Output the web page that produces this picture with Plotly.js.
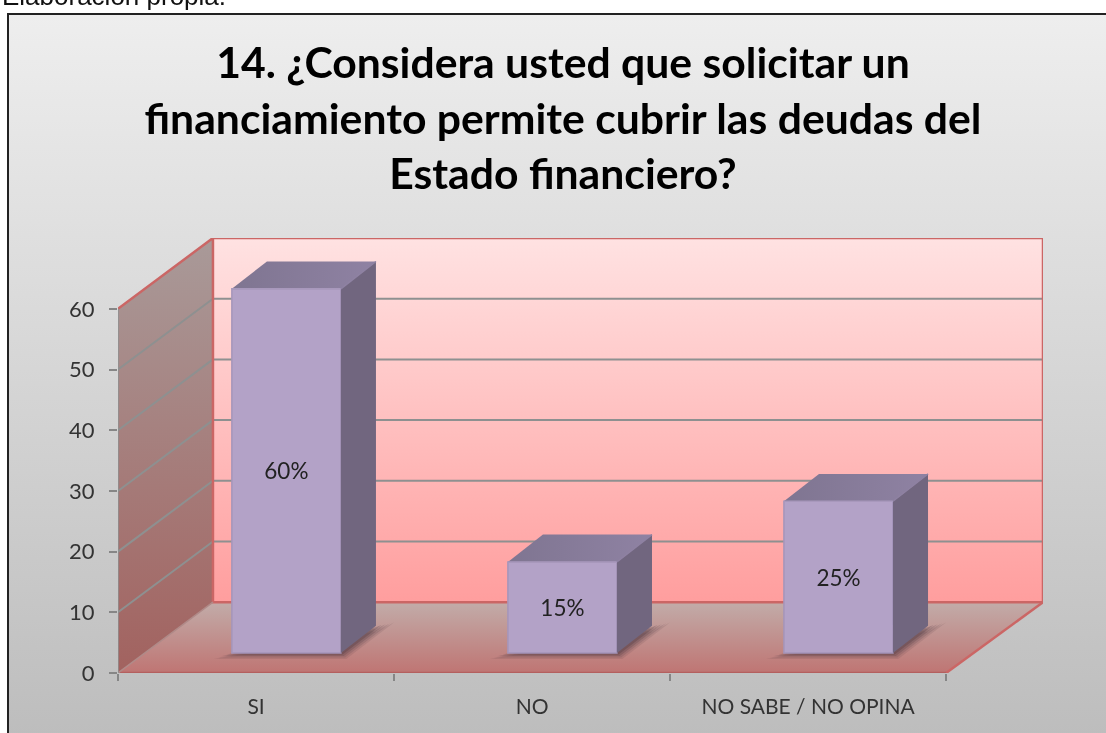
<!DOCTYPE html>
<html><head><meta charset="utf-8">
<script src="https://cdn.plot.ly/plotly-3.0.1.min.js"></script>
<style>
html,body{margin:0;padding:0;width:1106px;height:733px;overflow:hidden;background:#fff}
#frame{position:absolute;left:7px;top:13px;width:1120px;height:740px;border:2px solid #222;background:linear-gradient(#EEEEEE,#BCBCBC);box-sizing:border-box}
#chart{position:absolute;left:0;top:0;width:1106px;height:733px;filter:blur(0.5px)}
</style></head><body>
<div id="frame"></div><div id="chart"></div>
<script>
const categories = ["SI", "NO", "NO SABE / NO OPINA"];
const values = [60, 15, 25];
const valueLabels = ["60%", "15%", "25%"];
const yTicks = [0, 10, 20, 30, 40, 50, 60];
const titleLines = ["14. ¿Considera usted que solicitar un", "financiamiento permite cubrir las deudas del", "Estado financiero?"];

// Pseudo-3D projection, in axis units
const wallDx = 0.344, wallDxR = 0.351, wallDy = 11.67, yMax = 60 + wallDy;
const xMin = -0.5, xEnd = 2.5, xMax = xEnd + wallDxR;
const barOff = 0.11, barW = 0.395, barBase = 3.3, barDx = 0.127, barDy = 4.5;
const RED = "#CB6665", GRID = "#8E9090";

function poly(x, y, color, grad, over, line) {
  const t = {type:"scatter", mode:"lines", x:x.concat(x[0]), y:y.concat(y[0]), fill:"toself",
    line:line || {width:0}, hoverinfo:"skip", showlegend:false, cliponaxis:false,
    xaxis: over ? "x2" : "x", yaxis: over ? "y2" : "y"};
  if (grad) t.fillgradient = {type:grad.type, colorscale:[[0,grad.a],[1,grad.b]]};
  else t.fillcolor = color;
  return t;
}
function seg(x, y, color, width, over) {
  return {type:"scatter", mode:"lines", x, y, line:{color, width}, hoverinfo:"skip", showlegend:false,
    cliponaxis:false, xaxis: over ? "x2" : "x", yaxis: over ? "y2" : "y"};
}

const traces = [];
// walls and floor
traces.push(poly([xMin+wallDx,xMax,xMax,xMin+wallDx],[wallDy,wallDy,yMax,yMax],null,{type:"vertical",a:"#FF9E9E",b:"#FFE2E2"}));
traces.push(poly([xMin,xMin+wallDx,xMin+wallDx,xMin],[0,wallDy,yMax,60],null,{type:"vertical",a:"#A2625F",b:"#A99A99"}));
traces.push(poly([xMin,xEnd,xMax,xMin+wallDx],[0,0,wallDy,wallDy],null,{type:"vertical",a:"#BF7573",b:"#C2ACA9"}));
// gridlines
yTicks.slice(1,-1).forEach(v => {
  traces.push(seg([xMin+wallDx,xMax],[v+wallDy,v+wallDy],GRID,2));
  traces.push(seg([xMin,xMin+wallDx],[v,v+wallDy],GRID,2));
});
// frame of the walls
traces.push(seg([xMin,xMin+wallDx,xMax,xMax,xMin+wallDx,xMin+wallDx],[60,yMax,yMax,wallDy,wallDy,yMax],RED,2.5));
traces.push(seg([xEnd,xMax],[0,wallDy],RED,2.5));
traces.push(seg([xMin,xEnd],[0,0],"#B4605F",2.5));
traces.push(seg([xMin,xMin+wallDx],[0,wallDy],"#B08A88",1.5));
traces.push(seg([xMin,xMin],[0,60],GRID,1.5));
// soft shadows on the floor
[[0.065,1.0,0.12],[0.05,0.75,0.16],[0.035,0.5,0.22],[0.02,0.25,0.28]].forEach(s => {
  values.forEach((v,i) => {
    const l = i+barOff-barW/2, r = l+barW, b = barBase;
    traces.push(poly([l-s[0], r+s[0]*0.3, r+barDx+s[0], r+barDx],
                     [b-s[1], b-s[1], b+barDy+s[1]*0.5, b+barDy-s[1]],`rgba(70,50,60,${s[2]})`));
  });
});
// bar fronts
traces.push({type:"bar", x:values.map((v,i)=>i+barOff), y:values, base:values.map(()=>barBase), width:barW,
  marker:{color:"#B3A2C7", line:{color:"#A595BA", width:1.5}}, text:valueLabels, textposition:"inside",
  insidetextanchor:"middle", textangle:0, constraintext:"none", textfont:{family:"Lato",size:22.5,color:"#222"},
  hoverinfo:"skip", showlegend:false, xaxis:"x2", yaxis:"y2"});
// bar side and top faces
values.forEach((v,i) => {
  const l = i+barOff-barW/2, r = l+barW, b = barBase, t = barBase+v;
  traces.push(poly([r,r+barDx,r+barDx,r],[b,b+barDy,t+barDy,t],"#71667F",null,true));
  traces.push(poly([l,r,r+barDx,l+barDx],[t,t,t+barDy,t+barDy],null,{type:"horizontal",a:"#7F7591",b:"#8F82A3"},true));
  traces.push(seg([l,r],[t,t],"#A898BC",1.5,true));
  traces.push(seg([r,r+barDx],[t,t+barDy],"#8E81A2",1.5,true));
});

const layout = {
  width:1106, height:733, paper_bgcolor:"rgba(0,0,0,0)", plot_bgcolor:"rgba(0,0,0,0)",
  margin:{l:118, r:63, t:238, b:60}, showlegend:false, barmode:"overlay",
  title:{text:titleLines.join("<br>"), font:{family:"Lato",size:42.7,color:"#000",weight:700}, x:0.509, xanchor:"center", y:0.8935, yanchor:"top"},
  xaxis:{range:[xMin,xMax], tickmode:"array", tickvals:categories.map((c,i)=>i), ticktext:categories,
    ticks:"outside", ticklen:15, tickcolor:"rgba(0,0,0,0)", showgrid:false, zeroline:false, showline:false,
    tickfont:{family:"Lato",size:21,color:"#333"},
    minor:{tickmode:"array", tickvals:[-0.5,0.5,1.5,2.5], ticks:"outside", ticklen:7, tickcolor:"#868686", tickwidth:2, showgrid:false}},
  yaxis:{range:[0,yMax], tickmode:"array", tickvals:yTicks, ticks:"outside", ticklen:8, tickcolor:"#868686", tickwidth:2,
    ticklabelstandoff:10, showgrid:false, zeroline:false, showline:false, tickfont:{family:"Lato",size:22,color:"#333"}},
  xaxis2:{overlaying:"x", range:[xMin,xMax], visible:false},
  yaxis2:{overlaying:"y", range:[0,yMax], visible:false},
  annotations:[{text:"Elaboración propia.", xref:"paper", yref:"paper", x:-118/925, xanchor:"left", y:(733-60+4)/435, yanchor:"middle", showarrow:false,
    font:{family:"Liberation Sans",size:26,color:"#111"}}]
};
Plotly.newPlot("chart", traces, layout, {displayModeBar:false, staticPlot:true});
</script>
</body></html>
